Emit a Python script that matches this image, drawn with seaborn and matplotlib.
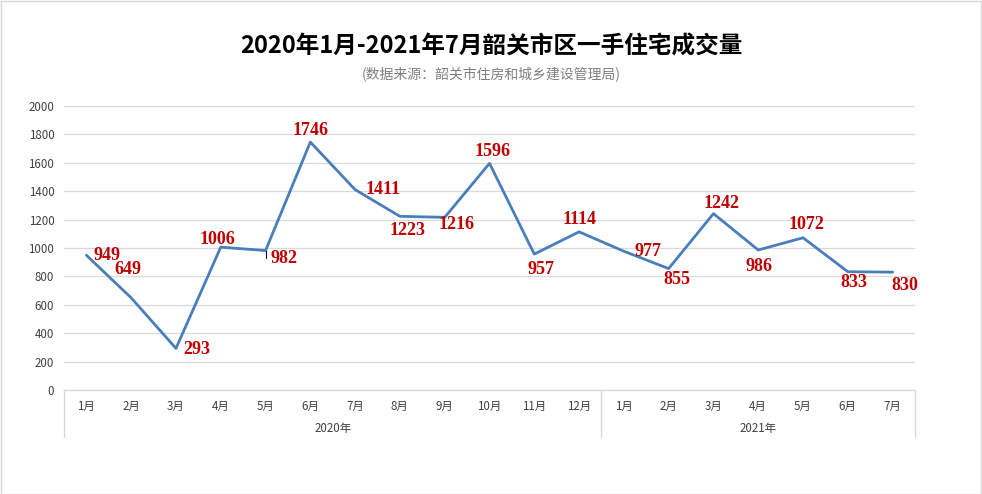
import matplotlib
matplotlib.use("Agg")
import matplotlib.pyplot as plt
import seaborn as sns
import pandas as pd
from matplotlib.patches import Rectangle

months = ["1月", "2月", "3月", "4月", "5月", "6月", "7月", "8月", "9月", "10月", "11月", "12月",
          "1月", "2月", "3月", "4月", "5月", "6月", "7月"]
years = ["2020年", "2021年"]
year_counts = [12, 7]
values = [949, 649, 293, 1006, 982, 1746, 1411, 1223, 1216, 1596, 957, 1114,
          977, 855, 1242, 986, 1072, 833, 830]

# label offsets in pixels (dx, dy; dy positive = up)
offsets = [(21, 0), (-3, 28), (21, -1), (-3, 8), (18, -8), (0, 12), (28, 0), (8, -14), (12, -7),
           (3, 12), (7, -15), (0, 12), (24, 0), (8, -11), (8, 10), (1, -17), (3, 13), (6, -11), (12, -13)]

sns.set_theme(style="white")
plt.rcParams['font.family'] = ['Noto Sans CJK SC', 'DejaVu Sans']

fig = plt.figure(figsize=(9.82, 4.94), dpi=100)
W, H = 982, 494
ax = fig.add_axes([64 / W, (H - 390) / H, (915 - 64) / W, (390 - 106) / H])

df = pd.DataFrame({"x": list(range(len(values))), "v": values})
sns.lineplot(data=df, x="x", y="v", ax=ax, color="#4A7EBB", linewidth=2.0)

ax.set_xlim(-0.5, len(values) - 0.5)
ax.set_ylim(0, 2000)
ax.set_yticks(range(0, 2001, 200))
ax.set_xticks(range(len(values)))
ax.set_xticklabels(months)
ax.tick_params(axis='both', length=0, labelsize=8.3, colors="#404040")
ax.tick_params(axis='x', pad=7)
ax.tick_params(axis='y', pad=7)
ax.grid(axis='y', color="#D9D9D9", linewidth=0.9)
ax.set_axisbelow(True)
for s in ["left", "right", "top"]:
    ax.spines[s].set_visible(False)
ax.spines["bottom"].set_color("#D9D9D9")
ax.spines["bottom"].set_linewidth(1.0)
ax.set_xlabel("")
ax.set_ylabel("")

# group separators and year labels
trans = ax.get_xaxis_transform()
seps = [-0.5]
acc = -0.5
for c in year_counts:
    acc += c
    seps.append(acc)
for s in seps:
    ax.plot([s, s], [0, -47 / 284], transform=trans, color="#D9D9D9", lw=1.0, clip_on=False)
start = 0
for y, c in zip(years, year_counts):
    mid = start + (c - 1) / 2
    ax.text(mid, -38 / 284, y, transform=trans, ha="center", va="center", fontsize=8.3, color="#404040")
    start += c

# data labels
for i, (v, (dx, dy)) in enumerate(zip(values, offsets)):
    kw = {}
    if i == 4:
        kw = dict(arrowprops=dict(arrowstyle='-', color='black', lw=0.8, relpos=(0, 0.5),
                                  connectionstyle='angle,angleA=0,angleB=90', shrinkA=1, shrinkB=0))
    ax.annotate(str(v), (i, v), xytext=(dx * 0.72, dy * 0.72), textcoords="offset points",
                ha="center", va="center", fontsize=13, fontweight="bold",
                family=["Liberation Serif", "DejaVu Serif"], color="#C00000", **kw)

fig.text(0.5, (H - 47) / H, "2020年1月-2021年7月韶关市区一手住宅成交量", ha="center", va="center",
         fontsize=17, fontweight="bold", color="#000000")
fig.text(0.5, (H - 75) / H, "(数据来源：韶关市住房和城乡建设管理局)", ha="center", va="center",
         fontsize=10, color="#808080")

fig.patches.append(Rectangle((0.5 / W, 0.5 / H), 1 - 1.5 / W, 1 - 1.5 / H, transform=fig.transFigure,
                             fill=False, edgecolor="#D9D9D9", lw=1.0))

fig.savefig("out.png", dpi=100, facecolor="white")
